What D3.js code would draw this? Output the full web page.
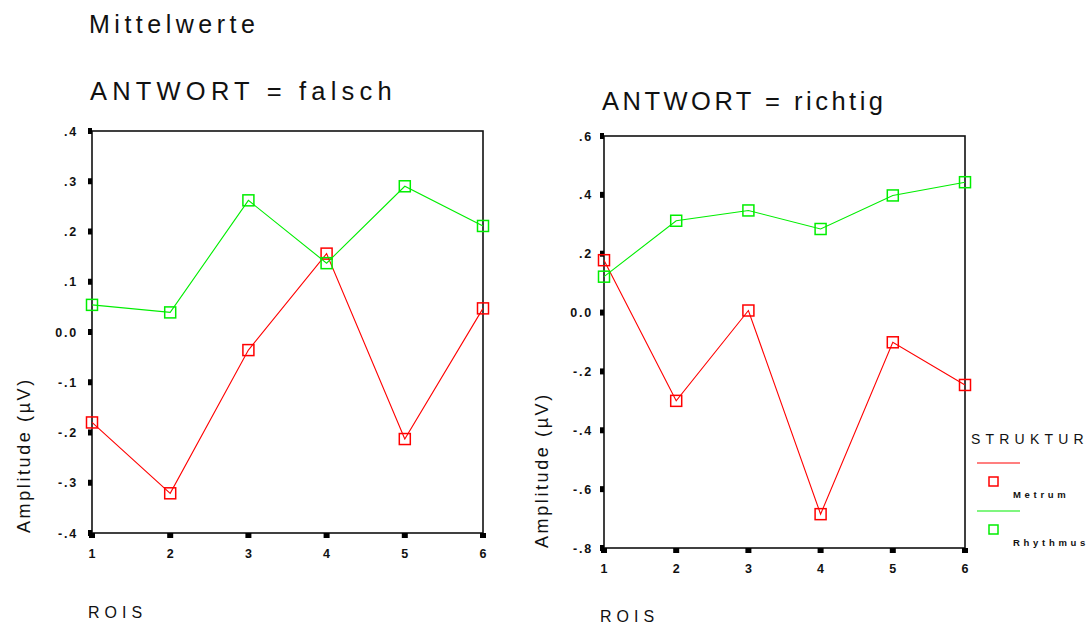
<!DOCTYPE html>
<html><head><meta charset="utf-8">
<script src="https://cdn.jsdelivr.net/npm/d3@7"></script>
<style>body{margin:0;background:#fff}svg{display:block}text{font-family:"Liberation Sans",Arial,sans-serif}</style>
</head><body>
<svg id="c" width="1088" height="625"></svg>
<script>
const rois = [1, 2, 3, 4, 5, 6];
const seriesNames = ["Metrum", "Rhythmus"];
const falschMetrum   = [-0.180, -0.321, -0.036, 0.156, -0.213, 0.047];
const falschRhythmus = [0.054, 0.039, 0.262, 0.137, 0.290, 0.211];
const richtigMetrum   = [0.178, -0.300, 0.007, -0.685, -0.101, -0.246];
const richtigRhythmus = [0.122, 0.312, 0.347, 0.284, 0.398, 0.443];
const falschTicks = [0.4, 0.3, 0.2, 0.1, 0.0, -0.1, -0.2, -0.3, -0.4];
const richtigTicks = [0.6, 0.4, 0.2, 0.0, -0.2, -0.4, -0.6, -0.8];
const colors = {Metrum: "#ff0000", Rhythmus: "#00ee00"};

const svg = d3.select("#c");
function fmt(v){
  if (Math.abs(v) < 1e-9) return "0.0";
  let s = Math.abs(v).toFixed(1).replace(/^0/, "");
  return (v < 0 ? "-" : "") + s;
}

function panel(cfg){
  const x = d3.scaleLinear().domain([1, 6]).range([cfg.l, cfg.r]);
  const y = d3.scaleLinear().domain(cfg.domain).range([cfg.b, cfg.t]);
  const g = svg.append("g");
  // title
  g.append("text").attr("x", cfg.l - 2).attr("y", cfg.titleY).attr("font-size", 25.5)
    .attr("letter-spacing", cfg.titleLs).attr("fill", "#111").text(cfg.title);
  // frame
  g.append("rect").attr("x", cfg.l).attr("y", cfg.t).attr("width", cfg.r - cfg.l).attr("height", cfg.b - cfg.t)
    .attr("fill", "none").attr("stroke", "#111").attr("stroke-width", 1.6);
  // y ticks
  cfg.ticks.forEach(v => {
    g.append("rect").attr("x", cfg.l - 4).attr("y", y(v) - 3).attr("width", 4).attr("height", 6).attr("fill", "#000");
    g.append("text").attr("x", cfg.l - cfg.lblOff).attr("y", y(v) + 4.5).attr("text-anchor", "end")
      .attr("font-size", 12.5).attr("font-weight", "bold").attr("letter-spacing", 1.8).attr("fill", "#111").text(fmt(v));
  });
  // x ticks
  rois.forEach(r => {
    g.append("rect").attr("x", x(r) - 3).attr("y", cfg.b).attr("width", 6).attr("height", 5).attr("fill", "#000");
    g.append("text").attr("x", x(r)).attr("y", cfg.b + 25).attr("text-anchor", "middle")
      .attr("font-size", 12.5).attr("font-weight", "bold").attr("fill", "#111").text(r);
  });
  // axis labels
  g.append("text").attr("transform", `translate(${cfg.yLabX},${cfg.b}) rotate(-90)`).attr("text-anchor", "start")
    .attr("font-size", 18).attr("letter-spacing", 2.6).attr("fill", "#111").text("Amplitude (µV)");
  g.append("text").attr("x", cfg.l - 4).attr("y", cfg.roisY).attr("font-size", 16).attr("letter-spacing", 5)
    .attr("fill", "#111").text("ROIS");
  // series
  const line = d3.line().x((d, i) => x(rois[i])).y(d => y(d));
  cfg.series.forEach(([name, vals]) => {
    g.append("path").attr("d", line(vals)).attr("fill", "none").attr("stroke", colors[name]).attr("stroke-width", 1.1);
    g.selectAll(null).data(vals).enter().append("rect")
      .attr("x", (d, i) => x(rois[i]) - 5.5).attr("y", d => y(d) - 5.5).attr("width", 11).attr("height", 11)
      .attr("fill", "none").attr("stroke", colors[name]).attr("stroke-width", 1.5);
  });
}

panel({l: 92, r: 483, t: 131, b: 533, domain: [-0.4, 0.4], ticks: falschTicks, title: "ANTWORT = falsch", titleY: 100, titleLs: 5.2,
  lblOff: 14, yLabX: 30, roisY: 618, series: [["Metrum", falschMetrum], ["Rhythmus", falschRhythmus]]});
panel({l: 604, r: 965, t: 136, b: 548, domain: [-0.8, 0.6], ticks: richtigTicks, title: "ANTWORT = richtig", titleY: 110, titleLs: 3.5,
  lblOff: 11, yLabX: 548, roisY: 622, series: [["Metrum", richtigMetrum], ["Rhythmus", richtigRhythmus]]});

svg.append("text").attr("x", 89).attr("y", 33).attr("font-size", 25).attr("letter-spacing", 4.5).attr("fill", "#111").text("Mittelwerte");

// legend
const lg = svg.append("g");
lg.append("text").attr("x", 971).attr("y", 444).attr("font-size", 14).attr("letter-spacing", 5.2).attr("fill", "#111").text("STRUKTUR");
seriesNames.forEach((n, i) => {
  const y0 = 463 + i * 48;
  lg.append("line").attr("x1", 977).attr("x2", 1020).attr("y1", y0).attr("y2", y0).attr("stroke", colors[n]).attr("stroke-width", 1.2);
  lg.append("rect").attr("x", 989).attr("y", y0 + 14).attr("width", 9).attr("height", 9).attr("fill", "none").attr("stroke", colors[n]).attr("stroke-width", 1.5);
  lg.append("text").attr("x", 1013).attr("y", y0 + 35).attr("font-size", 9.5).attr("font-weight", "bold").attr("letter-spacing", 3.7).attr("fill", "#111").text(n);
});
</script>
</body></html>
